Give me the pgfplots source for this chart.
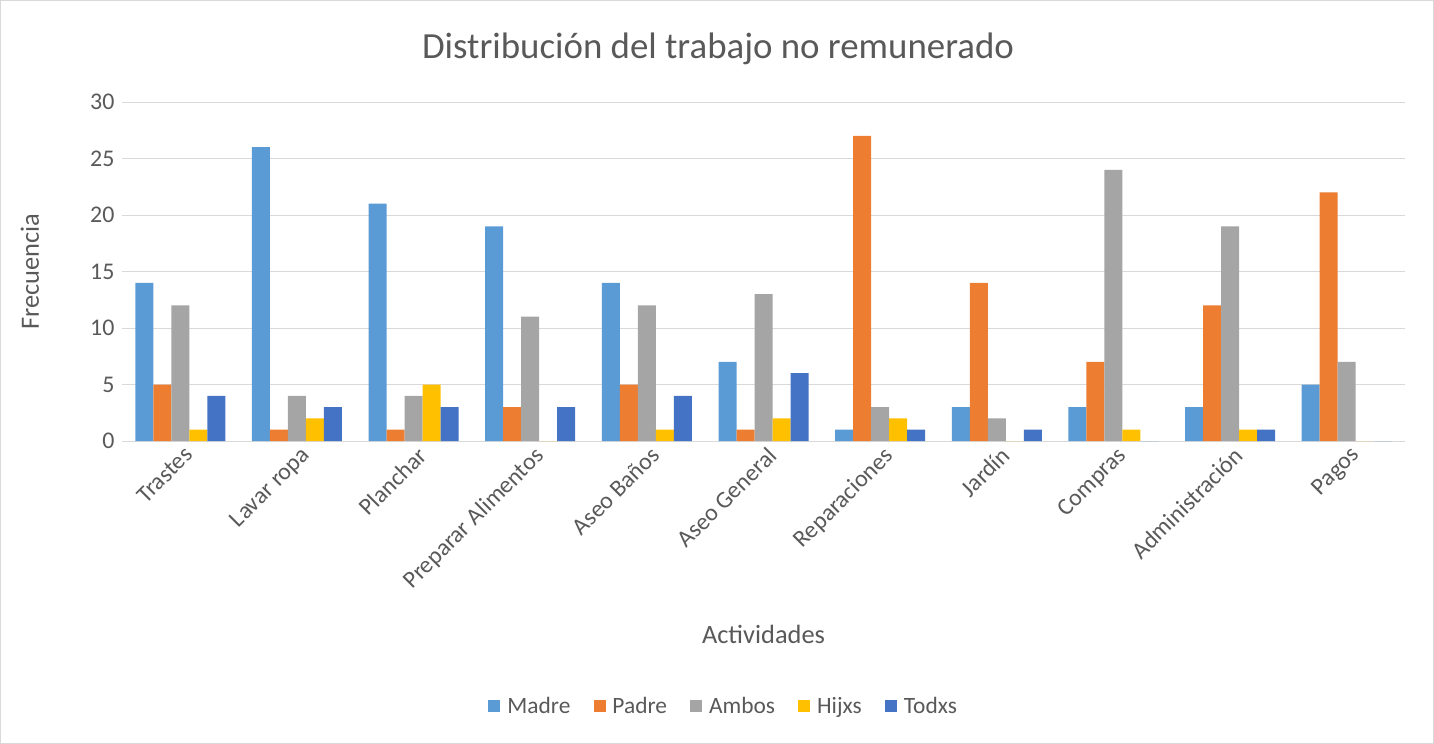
\documentclass[border=0pt]{standalone}
\usepackage{pgfplots}
\pgfplotsset{compat=1.18}
\usepackage{fontspec}
\setmainfont{Carlito}
\definecolor{cMadre}{HTML}{5B9BD5}
\definecolor{cPadre}{HTML}{ED7D31}
\definecolor{cAmbos}{HTML}{A5A5A5}
\definecolor{cHijxs}{HTML}{FFC000}
\definecolor{cTodxs}{HTML}{4472C4}
\definecolor{txt}{HTML}{595959}
\definecolor{gridc}{HTML}{D9D9D9}
\begin{document}
\begin{tikzpicture}
\draw[gridc, line width=1bp] (-121.5bp,-302.5bp) rectangle (1311.5bp,440.5bp);
\useasboundingbox (-122bp,-303bp) rectangle (1312bp,441bp);
\node[txt, font=\fontsize{37}{44}\selectfont] at (596bp,392bp) {Distribución del trabajo no remunerado};
\begin{axis}[
  scale only axis,
  width=1283bp, height=339bp,
  ybar=0pt, bar width=18bp,
  xmin=-0.5, xmax=10.5,
  ymin=0, ymax=30,
  ytick={0,5,...,30},
  xtick=data,
  xticklabels={Trastes,Lavar ropa,Planchar,Preparar Alimentos,Aseo Baños,Aseo General,Reparaciones,Jardín,Compras,Administración,Pagos},
  major tick length=0pt,
  xmajorgrids=false,
  ymajorgrids,
  grid style={draw=gridc, line width=1bp},
  axis line style={draw=none},
  /pgf/number format/assume math mode=true,
  tick label style={txt, font=\fontsize{24}{28}\selectfont},
  yticklabel style={xshift=-4bp},
  xticklabel style={rotate=45, anchor=north east, inner sep=2bp, xshift=1bp, yshift=-3bp},
  xlabel={Actividades},
  ylabel={Frecuencia},
  label style={txt, font=\fontsize{26.5}{31}\selectfont},
  xlabel style={at={(axis description cs:0.5,-0.572)}, anchor=center},
  ylabel style={at={(axis description cs:-0.0717,0.5)}, anchor=center},
  legend columns=5,
  legend style={draw=none, fill=none, at={(axis description cs:0.469,-0.782)}, anchor=center,
    font=\fontsize{23.5}{28}\selectfont, text=txt,
    /tikz/every odd column/.append style={column sep=5bp},
    /tikz/every even column/.append style={column sep=21bp}},
  legend image code/.code={\fill[#1] (0bp,-6bp) rectangle (12bp,6bp);},
  every axis plot/.append style={draw=none},
]
\addplot[fill=cMadre] coordinates {(0,14)(1,26)(2,21)(3,19)(4,14)(5,7)(6,1)(7,3)(8,3)(9,3)(10,5)};
\addplot[fill=cPadre] coordinates {(0,5)(1,1)(2,1)(3,3)(4,5)(5,1)(6,27)(7,14)(8,7)(9,12)(10,22)};
\addplot[fill=cAmbos] coordinates {(0,12)(1,4)(2,4)(3,11)(4,12)(5,13)(6,3)(7,2)(8,24)(9,19)(10,7)};
\addplot[fill=cHijxs] coordinates {(0,1)(1,2)(2,5)(3,0)(4,1)(5,2)(6,2)(7,0)(8,1)(9,1)(10,0)};
\addplot[fill=cTodxs] coordinates {(0,4)(1,3)(2,3)(3,3)(4,4)(5,6)(6,1)(7,1)(8,0)(9,1)(10,0)};
\legend{Madre,Padre,Ambos,Hijxs,Todxs}
\end{axis}
\end{tikzpicture}
\end{document}
